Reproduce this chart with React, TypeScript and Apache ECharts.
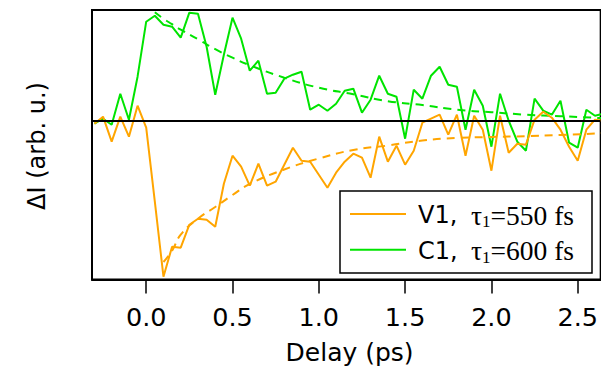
import React, { useEffect, useRef } from "react";
import * as echarts from "echarts";

const delays = [
  -0.3, -0.25, -0.2, -0.15, -0.1, -0.05, 0.0, 0.05, 0.1, 0.15,
  0.2, 0.25, 0.3, 0.35, 0.4, 0.45, 0.5, 0.55, 0.6, 0.65,
  0.7, 0.75, 0.8, 0.85, 0.9, 0.95, 1.0, 1.05, 1.1, 1.15,
  1.2, 1.25, 1.3, 1.35, 1.4, 1.45, 1.5, 1.55, 1.6, 1.65,
  1.7, 1.75, 1.8, 1.85, 1.9, 1.95, 2.0, 2.05, 2.1, 2.15,
  2.2, 2.25, 2.3, 2.35, 2.4, 2.45, 2.5, 2.55, 2.6, 2.65,
];

const c1Values = [
  -0.03, 0.02, -0.04, 0.27, 0.01, 0.44, 0.99, 1.05, 0.96, 0.94,
  0.83, 1.08, 1.07, 0.74, 0.26, 0.66, 1.03, 0.82, 0.5, 0.6,
  0.27, 0.28, 0.42, 0.46, 0.49, 0.11, 0.16, 0.1, 0.17, 0.3,
  0.32, 0.08, 0.21, 0.45, 0.27, 0.24, -0.18, 0.31, 0.22, 0.45,
  0.54, 0.36, 0.34, -0.09, 0.31, 0.15, -0.26, 0.27, 0.0, -0.21,
  -0.3, 0.22, 0.1, 0.06, 0.2, -0.22, -0.27, 0.11, 0.05, 0.07,
];

const v1Values = [
  -0.03, 0.04, -0.21, 0.04, -0.16, 0.15, -0.07, -0.81, -1.56, -1.26,
  -1.27, -1.04, -0.98, -0.99, -1.06, -0.63, -0.35, -0.46, -0.65, -0.43,
  -0.65, -0.61, -0.44, -0.27, -0.4, -0.41, -0.54, -0.67, -0.52, -0.41,
  -0.33, -0.37, -0.57, -0.16, -0.41, -0.25, -0.44, -0.3, -0.02, 0.02,
  0.06, -0.14, 0.06, -0.35, 0.05, -0.09, -0.5, 0.05, -0.32, -0.23,
  -0.24, 0.01, 0.09, 0.03, -0.09, -0.26, -0.4, -0.09, 0.01, 0.0,
];

const c1FitDelays = [0.05, 0.1, 0.15, 0.2, 0.3, 0.4, 0.5, 0.6, 0.8, 1.0, 1.2, 1.4, 1.6, 1.8, 2.0, 2.2, 2.4, 2.65];
const c1Fit = [1.084, 1.02, 0.965, 0.91, 0.815, 0.715, 0.63, 0.555, 0.43, 0.33, 0.265, 0.195, 0.157, 0.11, 0.085, 0.06, 0.045, 0.025];

const v1FitDelays = [0.1, 0.15, 0.2, 0.3, 0.4, 0.5, 0.6, 0.8, 1.0, 1.2, 1.4, 1.6, 1.8, 2.0, 2.2, 2.4, 2.65];
const v1Fit = [-1.413, -1.3, -1.14, -0.98, -0.863, -0.743, -0.633, -0.488, -0.378, -0.293, -0.248, -0.198, -0.173, -0.163, -0.155, -0.143, -0.125];

const tickValues = [0, 0.5, 1.0, 1.5, 2.0, 2.5];

const ORANGE = "#ffa500";
const GREEN = "#00e400";

export default function App() {
  const ref = useRef<HTMLDivElement>(null);

  useEffect(() => {
    const chart = echarts.init(ref.current!, null, { renderer: "svg" });
    const zip = (xs: number[], ys: number[]) => xs.map((x, i) => [x, ys[i]]);
    const sans = "DejaVu Sans";
    const serif = "Liberation Serif";

    chart.setOption({
      animation: false,
      backgroundColor: "#fff",
      grid: {
        left: 92,
        top: 10,
        right: -1,
        bottom: 89.5,
        show: true,
        borderColor: "#000",
        borderWidth: 2,
        backgroundColor: "transparent",
      },
      xAxis: {
        type: "value",
        min: -0.314,
        max: 2.633,
        splitLine: { show: false },
        axisLine: { show: true, onZero: false, lineStyle: { color: "#000", width: 2 } },
        axisTick: {
          show: true,
          inside: false,
          length: 14,
          lineStyle: { color: "#000", width: 1.5 },
          customValues: tickValues,
        },
        axisLabel: {
          show: true,
          margin: 24,
          color: "#000",
          fontFamily: sans,
          fontSize: 25.5,
          customValues: tickValues,
          formatter: (v: number) => v.toFixed(1),
        },
      },
      yAxis: {
        type: "value",
        min: -1.588,
        max: 1.107,
        axisLine: { show: false },
        axisTick: { show: false },
        axisLabel: { show: false },
        splitLine: { show: false },
      },
      series: [
        {
          name: "C1",
          type: "line",
          data: zip(delays, c1Values),
          symbol: "none",
          lineStyle: { color: GREEN, width: 2 },
          itemStyle: { color: GREEN },
          z: 2,
        },
        {
          name: "V1",
          type: "line",
          data: zip(delays, v1Values),
          symbol: "none",
          lineStyle: { color: ORANGE, width: 2 },
          itemStyle: { color: ORANGE },
          z: 3,
          markLine: {
            silent: true,
            symbol: ["none", "none"],
            label: { show: false },
            lineStyle: { color: "#000", width: 2, type: "solid" },
            data: [{ yAxis: 0 }],
          },
        },
        {
          name: "C1 fit",
          type: "line",
          data: zip(c1FitDelays, c1Fit),
          smooth: true,
          symbol: "none",
          lineStyle: { color: GREEN, width: 2, type: [8, 6] },
          z: 2,
        },
        {
          name: "V1 fit",
          type: "line",
          data: zip(v1FitDelays, v1Fit),
          smooth: true,
          symbol: "none",
          lineStyle: { color: ORANGE, width: 2, type: [8, 6] },
          z: 3,
        },
      ],
      graphic: [
        {
          type: "text",
          x: 37,
          y: 146,
          rotation: Math.PI / 2,
          style: {
            text: "ΔI (arb. u.)",
            fontFamily: sans,
            fontSize: 24,
            fill: "#000",
            align: "center",
            verticalAlign: "middle",
          },
        },
        {
          type: "text",
          x: 349.6,
          y: 352,
          style: {
            text: "Delay (ps)",
            fontFamily: sans,
            fontSize: 25,
            fill: "#000",
            align: "center",
            verticalAlign: "middle",
          },
        },
        {
          type: "rect",
          z: 10,
          shape: { x: 340, y: 191, width: 252, height: 82 },
          style: { fill: "#fff", stroke: "#000", lineWidth: 1.5 },
        },
        {
          type: "line",
          z: 11,
          shape: { x1: 350, y1: 214, x2: 406, y2: 214 },
          style: { stroke: ORANGE, lineWidth: 2 },
        },
        {
          type: "line",
          z: 11,
          shape: { x1: 350, y1: 249.7, x2: 406, y2: 249.7 },
          style: { stroke: GREEN, lineWidth: 2 },
        },
        ...[
          { y: 215, label: "V1,", tau: "=550 fs" },
          { y: 250.7, label: "C1,", tau: "=600 fs" },
        ].map((e) => ({
          type: "text",
          z: 11,
          x: 418,
          y: e.y,
          style: {
            text: `{a|${e.label}}{t|τ}{s|1}{t|${e.tau}}`,
            align: "left",
            verticalAlign: "middle",
            fill: "#000",
            rich: {
              a: { fontFamily: sans, fontSize: 24, width: 53, lineHeight: 30, fill: "#000" },
              t: { fontFamily: serif, fontSize: 27.5, lineHeight: 30, fill: "#000" },
              s: { fontFamily: serif, fontSize: 17, lineHeight: 16, verticalAlign: "bottom", fill: "#000" },
            },
          },
        })),
      ],
    });

    return () => chart.dispose();
  }, []);

  return (
    <div
      ref={ref}
      style={{ position: "fixed", left: 0, top: 0, width: 601, height: 369 }}
    />
  );
}
